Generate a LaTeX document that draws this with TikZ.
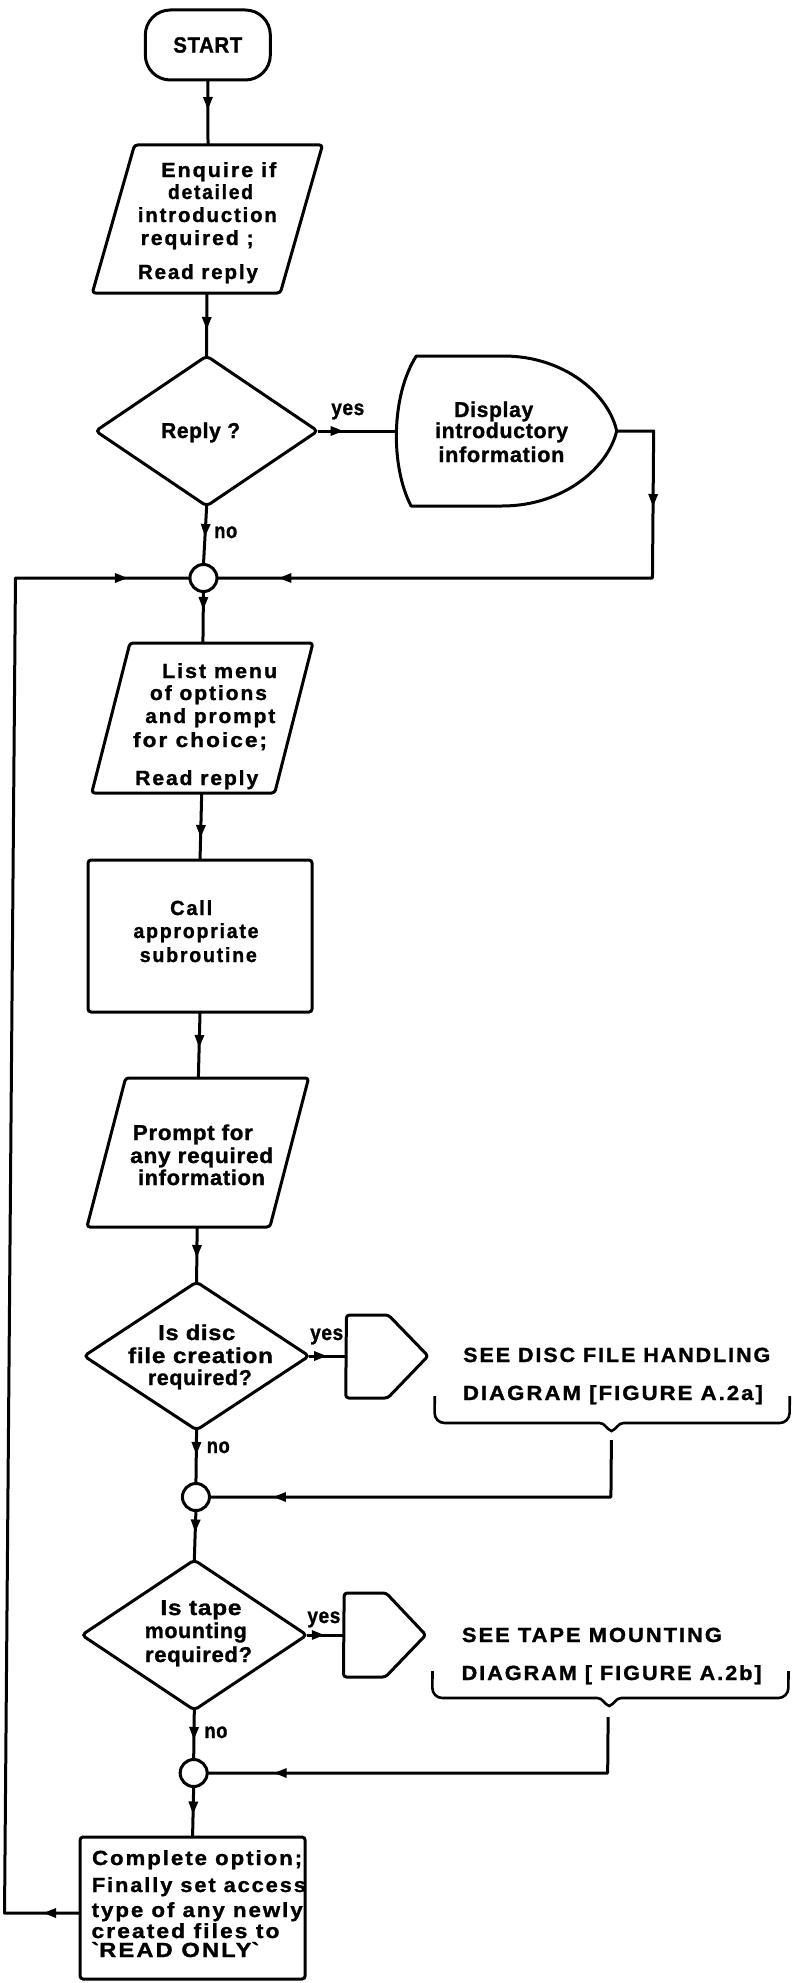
\documentclass[tikz,border=0pt]{standalone}
\usepackage{graphicx}
\usepackage{fontspec}
\setmainfont{Liberation Sans}
\newfontfamily\widefont{Liberation Sans}[LetterSpace=9, BoldFeatures={FakeBold=1.2}]
\newfontfamily\narrowfont{Liberation Sans}[LetterSpace=3, BoldFeatures={FakeBold=1.2}]
\usetikzlibrary{shapes.geometric,arrows.meta,decorations.markings}
\newcommand{\rb}[2]{\resizebox{#1pt}{\height}{#2}}
\newcommand{\para}[6]{%
  \draw[ln, rounded corners=3pt] ({#2-#4/2+#6/2},{#3-#5/2}) -- ({#2+#4/2+#6/2},{#3-#5/2}) -- ({#2+#4/2-#6/2},{#3+#5/2}) -- ({#2-#4/2-#6/2},{#3+#5/2}) -- cycle;
  \coordinate (#1n) at (#2,{#3-#5/2});
  \coordinate (#1s) at (#2,{#3+#5/2});
}
\begin{document}
\begin{tikzpicture}[x=1pt,y=-1pt,
  ln/.style={line width=3pt, line join=round},
  shp/.style={draw, line width=3pt, inner sep=0pt, outer sep=0pt},
  dia/.style={shp, diamond, rounded corners=4pt},
  jn/.style={shp, circle, minimum size=27pt},
  arrat/.style={postaction={decorate, decoration={markings, mark=at position #1 with {\arrow{Triangle[length=13pt,width=9pt]}}}}},
  wt/.style={font=\widefont\bfseries\fontsize{20.5}{24}\selectfont, anchor=base, inner sep=0pt},
  nt/.style={font=\narrowfont\bfseries\fontsize{21.5}{25}\selectfont, anchor=base, inner sep=0pt},
  wtl/.style={wt, anchor=base west},
]
\fill[white] (0,0) rectangle (799,1983);
\useasboundingbox (0,0) rectangle (799,1983);
\begin{scope}[xshift=8.2pt, xslant=0.0082]
% START
\node[shp, rounded corners=25pt, minimum width=125pt, minimum height=70pt, font=\narrowfont\bfseries\fontsize{22}{24}\selectfont] (start) at (200,45) {\rb{69}{START}};
% Enquire
\para{en}{201}{219}{188}{148}{41}
\node[wt] (t1) at (212,177) {\rb{115}{Enquire if}};
\node[wt] (t2) at (204,199) {\rb{85}{detailed}};
\node[wt] (t3) at (201,222) {\rb{139}{introduction}};
\node[wt] (t4) at (191,245) {\rb{113}{required ;}};
\node[wt] (t5) at (192,279) {\rb{120}{Read reply}};
% Reply diamond
\node[dia, minimum width=222pt, minimum height=150pt] (d1) at (202,431) {};
\node[nt] (t6) at (196,438) {\rb{79}{Reply ?}};
\node[nt] (t7) at (343,415) {\rb{33}{yes}};
% Display
\draw[ln] (411,356) -- (498,356) .. controls (560,356) and (604,395) .. (612,431) .. controls (604,467) and (560,506) .. (498,506) -- (407,506) .. controls (386,466) and (386,396) .. (411,356) -- cycle;
\coordinate (dw) at (392,431);
\coordinate (de) at (612,431);
\node[nt] (t8) at (489,417) {\rb{79}{Display}};
\node[nt] (t9) at (497,438) {\rb{133}{introductory}};
\node[nt] (t10) at (497,462) {\rb{126}{information}};
\node[nt] (t11) at (222,538) {\rb{23}{no}};
% junction 1
\node[jn] (c1) at (200,578) {};
% List
\para{li}{200}{718}{183}{150}{37}
\node[wt] (t12) at (217,678) {\rb{115}{List menu}};
\node[wt] (t13) at (206,700) {\rb{117}{of options}};
\node[wt] (t14) at (208,723) {\rb{130}{and prompt}};
\node[wt] (t15) at (198,747) {\rb{134}{for choice;}};
\node[wt] (t16) at (195,785) {\rb{123}{Read reply}};
% Call
\node[shp, rounded corners=3pt, minimum width=224pt, minimum height=152pt] (call) at (199.5,936) {};
\node[wt] (t17) at (190.5,915) {\rb{42}{Call}};
\node[wt] (t18) at (195.5,938) {\rb{125}{appropriate}};
\node[wt] (t19) at (198,962) {\rb{117}{subroutine}};
% Prompt
\para{pr}{199}{1152.5}{183}{149}{37.5}
\node[nt] (t20) at (194,1140) {\rb{120}{Prompt for}};
\node[nt] (t21) at (203,1163) {\rb{143}{any required}};
\node[nt] (t22) at (203,1185) {\rb{127}{information}};
% Disc diamond
\node[dia, minimum width=225pt, minimum height=148pt] (d2) at (199.5,1356) {};
\node[nt] (t23) at (199.5,1340) {\rb{77}{Is disc}};
\node[nt] (t24) at (203.5,1363) {\rb{145}{file creation}};
\node[nt] (t25) at (203,1385) {\rb{104}{required?}};
\node[nt] (t26) at (329.5,1340) {\rb{33}{yes}};
\draw[ln, rounded corners=3pt] (349,1315) -- (391,1315) -- (431,1356) -- (391,1398) -- (349,1398) -- cycle;
\coordinate (p1) at (349,1356);
\node[wtl] (t27) at (466,1362) {\rb{307}{SEE DISC FILE HANDLING}};
\node[wtl] (t28) at (466,1400) {\rb{300}{DIAGRAM [FIGURE A.2a]}};
\draw[line width=2.6pt] (438,1396) -- (438,1413) to[out=-90,in=180] (448,1423) -- (603,1423) to[out=0,in=160] (615,1431) to[out=20,in=180] (627,1423) -- (783,1423) to[out=0,in=-90] (793,1413) -- (793,1396);
\coordinate (b1) at (615,1440);
\node[nt] (t29) at (222,1453) {\rb{23}{no}};
\node[jn] (c2) at (200,1497) {};
% Tape diamond
\node[dia, minimum width=225pt, minimum height=150pt] (d3) at (199.5,1635) {};
\node[nt] (t30) at (206,1615) {\rb{81}{Is tape}};
\node[nt] (t31) at (201,1638) {\rb{102}{mounting}};
\node[nt] (t32) at (204,1662) {\rb{107}{required?}};
\node[nt] (t33) at (329,1623) {\rb{33}{yes}};
\draw[ln, rounded corners=3pt] (349,1593) -- (391,1593) -- (431,1635) -- (391,1677) -- (349,1677) -- cycle;
\coordinate (p2) at (349,1635);
\node[wtl] (t34) at (467,1642) {\rb{260}{SEE TAPE MOUNTING}};
\node[wtl] (t35) at (467,1680) {\rb{300}{DIAGRAM [ FIGURE A.2b]}};
\draw[line width=2.6pt] (438,1671) -- (438,1688) to[out=-90,in=180] (448,1698) -- (603,1698) to[out=0,in=160] (615,1706) to[out=20,in=180] (627,1698) -- (784,1698) to[out=0,in=-90] (794,1688) -- (794,1671);
\coordinate (b2) at (614,1717);
\node[nt] (t36) at (222,1738) {\rb{23}{no}};
\node[jn] (c3) at (200,1773) {};
% Final box
\node[shp, rounded corners=3pt, minimum width=225pt, minimum height=142pt] (fin) at (200,1908) {};
\coordinate (fl) at (87.5,1913);
\node[wtl] (t37) at (99,1865) {\rb{210}{Complete option;}};
\node[wtl] (t38) at (99,1892) {\rb{214}{Finally set access}};
\node[wtl] (t39) at (99,1917) {\rb{211}{type of any newly}};
\node[wtl] (t40) at (99,1938) {\rb{188}{created files to}};
\node[wtl] (t41) at (99,1957) {\rb{168}{\textasciigrave READ ONLY\textasciigrave}};
% connectors
\draw[ln, arrat=30pt] (start.south) -- (enn);
\draw[ln, arrat=37pt] (ens) -- (d1.north);
\draw[ln, arrat=26pt] (d1.east) -- (dw);
\draw[ln, arrat=31pt] (d1.south) -- (c1.north);
\draw[ln, arrat=113pt, arrat=558pt] (de) -- (649,431) -- (649,578) -- (c1.east);
\draw[ln, arrat=37pt, arrat=1523pt] (fl) -- (12,1913) -- (12,578) -- (c1.west);
\draw[ln, arrat=18.5pt] (c1.south) -- (lin);
\draw[ln, arrat=45pt] (lis) -- (call.north);
\draw[ln, arrat=36pt] (call.south) -- (prn);
\draw[ln, arrat=31pt] (prs) -- (d2.north);
\draw[ln, arrat=18pt] (d2.east) -- (p1);
\draw[ln, arrat=25pt] (d2.south) -- (c2.north);
\draw[ln, arrat=395pt] (b1) -- (615,1497) -- (c2.east);
\draw[ln, arrat=22pt] (c2.south) -- (d3.north);
\draw[ln, arrat=18pt] (d3.east) -- (p2);
\draw[ln, arrat=30pt] (d3.south) -- (c3.north);
\draw[ln, arrat=390pt] (b2) -- (614,1773) -- (c3.east);
\draw[ln, arrat=28pt] (c3.south) -- (fin.north);
\end{scope}
\end{tikzpicture}
\end{document}
